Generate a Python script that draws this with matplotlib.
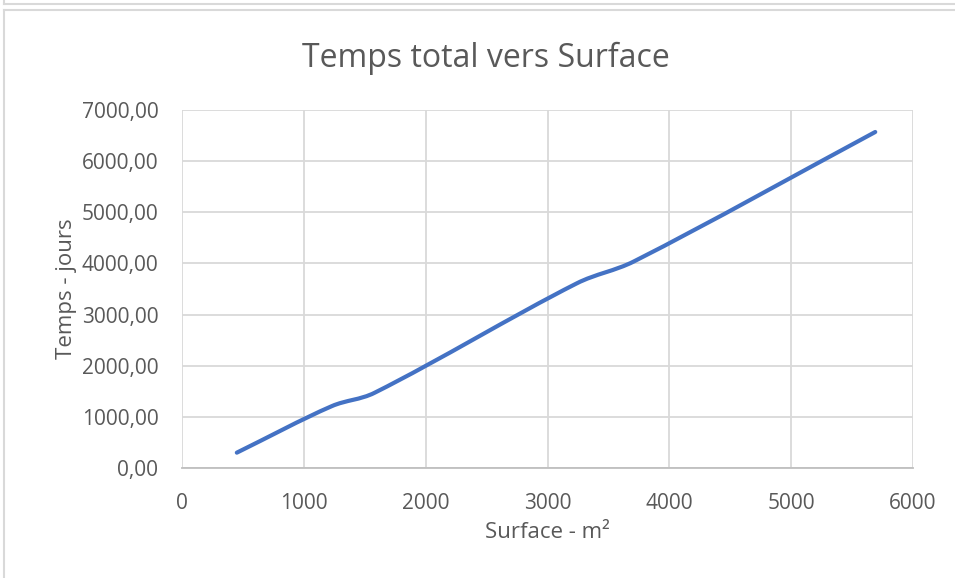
import matplotlib
matplotlib.use("Agg")
import matplotlib.pyplot as plt
from matplotlib.path import Path
from matplotlib.patches import PathPatch
import numpy as np

# Data
surface = [450, 1230, 1580, 3240, 3710, 5690]
temps = [300, 1210, 1470, 3610, 4040, 6570]

x_ticks = [0, 1000, 2000, 3000, 4000, 5000, 6000]
y_ticks = [0, 1000, 2000, 3000, 4000, 5000, 6000, 7000]

grid_color = '#d9d9d9'
text_color = '#595959'
line_color = '#4472c4'

plt.rcParams['font.family'] = ['Open Sans', 'DejaVu Sans']

fig = plt.figure(figsize=(9.55, 5.78), dpi=100)
ax = fig.add_axes([182/955, 1 - 468/578, (913 - 182)/955, (468 - 110)/578])


# smoothed line: cubic Hermite in x drawn as Bezier segments
def smooth_path(xs, ys):
    x = np.asarray(xs, float)
    y = np.asarray(ys, float)
    n = len(x)
    m = np.empty(n)
    m[0] = (y[1] - y[0]) / (x[1] - x[0])
    m[-1] = (y[-1] - y[-2]) / (x[-1] - x[-2])
    m[1:-1] = (y[2:] - y[:-2]) / (x[2:] - x[:-2])
    verts = [(x[0], y[0])]
    codes = [Path.MOVETO]
    for i in range(n - 1):
        h = (x[i + 1] - x[i]) / 3
        verts += [(x[i] + h, y[i] + m[i] * h),
                  (x[i + 1] - h, y[i + 1] - m[i + 1] * h),
                  (x[i + 1], y[i + 1])]
        codes += [Path.CURVE4] * 3
    return Path(verts, codes)


ax.add_patch(PathPatch(smooth_path(surface, temps), facecolor='none',
                       edgecolor=line_color, lw=3, capstyle='round'))

ax.set_xlim(0, 6000)
ax.set_ylim(0, 7000)
ax.set_xticks(x_ticks)
ax.set_yticks(y_ticks)
ax.set_xticklabels([str(v) for v in x_ticks])
ax.set_yticklabels([f'{v},00' for v in y_ticks])
ax.tick_params(length=0, labelsize=15, colors=text_color)
ax.tick_params(axis='y', pad=17)
ax.tick_params(axis='x', pad=18)
ax.grid(True, color=grid_color, lw=1.3)
ax.set_axisbelow(True)
for side in ['top', 'right', 'left']:
    ax.spines[side].set_visible(False)
ax.spines['bottom'].set_color('#bfbfbf')
ax.spines['bottom'].set_linewidth(1.3)

ax.set_xlabel('Surface - m²', fontsize=16, color=text_color)
ax.set_ylabel('Temps - jours', fontsize=16, color=text_color)
ax.xaxis.set_label_coords(0.5, -(522 - 468) / 358)
ax.yaxis.set_label_coords(-(182 - 77) / 731, 0.5)
fig.text(486/955, 1 - 67/578, 'Temps total vers Surface', fontsize=23,
         color=text_color, ha='center', va='baseline')

# chart frame lines
fig.add_artist(plt.Line2D([4/955, 4/955], [0, 1 - 10/578], color='#d9d9d9', lw=1.5))
fig.add_artist(plt.Line2D([4/955, 1], [1 - 10/578, 1 - 10/578], color='#d9d9d9', lw=1.5))
fig.add_artist(plt.Line2D([4/955, 1], [1 - 4/578, 1 - 4/578], color='#d9d9d9', lw=1.5))
fig.add_artist(plt.Line2D([4/955, 4/955], [1 - 4/578, 1], color='#d9d9d9', lw=1.5))

fig.savefig('out.png', dpi=100)
